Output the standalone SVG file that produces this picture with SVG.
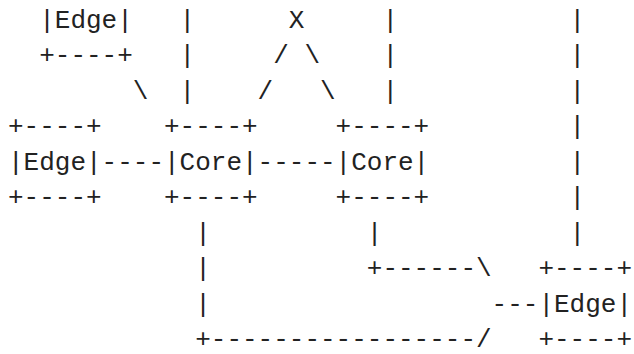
<svg xmlns="http://www.w3.org/2000/svg" width="634" height="354" viewBox="0 0 634 354">
<style>
text{font-family:"Liberation Mono","DejaVu Sans Mono",monospace;font-size:26px;fill:#222;white-space:pre}
</style>
<rect width="634" height="354" fill="#fff"/>
<g id="edge-top">
<text x="39.2" y="27.5">|Edge|</text>
<text x="39.2" y="63">+----+</text>
</g>
<g id="x-node">
<text x="288.8" y="27.5">X</text>
</g>
<g id="edge-left">
<text x="8" y="134">+----+</text>
<text x="8" y="169.5">|Edge|</text>
<text x="8" y="205">+----+</text>
</g>
<g id="core-1">
<text x="164" y="134">+----+</text>
<text x="164" y="169.5">|Core|</text>
<text x="164" y="205">+----+</text>
</g>
<g id="core-2">
<text x="335.6" y="134">+----+</text>
<text x="335.6" y="169.5">|Core|</text>
<text x="335.6" y="205">+----+</text>
</g>
<g id="edge-right">
<text x="538.4" y="276">+----+</text>
<text x="538.4" y="311.5">|Edge|</text>
<text x="538.4" y="347">+----+</text>
</g>
<g id="connectors">
<text x="179.6" y="27.5">|</text>
<text x="382.4" y="27.5">|</text>
<text x="569.6" y="27.5">|</text>
<text x="179.6" y="63">|</text>
<text x="273.2" y="63">/</text>
<text x="304.4" y="63">\</text>
<text x="382.4" y="63">|</text>
<text x="569.6" y="63">|</text>
<text x="132.8" y="98.5">\</text>
<text x="179.6" y="98.5">|</text>
<text x="257.6" y="98.5">/</text>
<text x="320" y="98.5">\</text>
<text x="382.4" y="98.5">|</text>
<text x="569.6" y="98.5">|</text>
<text x="569.6" y="134">|</text>
<text x="101.6" y="169.5">----</text>
<text x="257.6" y="169.5">-----</text>
<text x="569.6" y="169.5">|</text>
<text x="569.6" y="205">|</text>
<text x="195.2" y="240.5">|</text>
<text x="366.8" y="240.5">|</text>
<text x="569.6" y="240.5">|</text>
<text x="195.2" y="276">|</text>
<text x="366.8" y="276">+------\</text>
<text x="195.2" y="311.5">|</text>
<text x="491.6" y="311.5">---</text>
<text x="195.2" y="347">+-----------------/</text>
</g>
</svg>
